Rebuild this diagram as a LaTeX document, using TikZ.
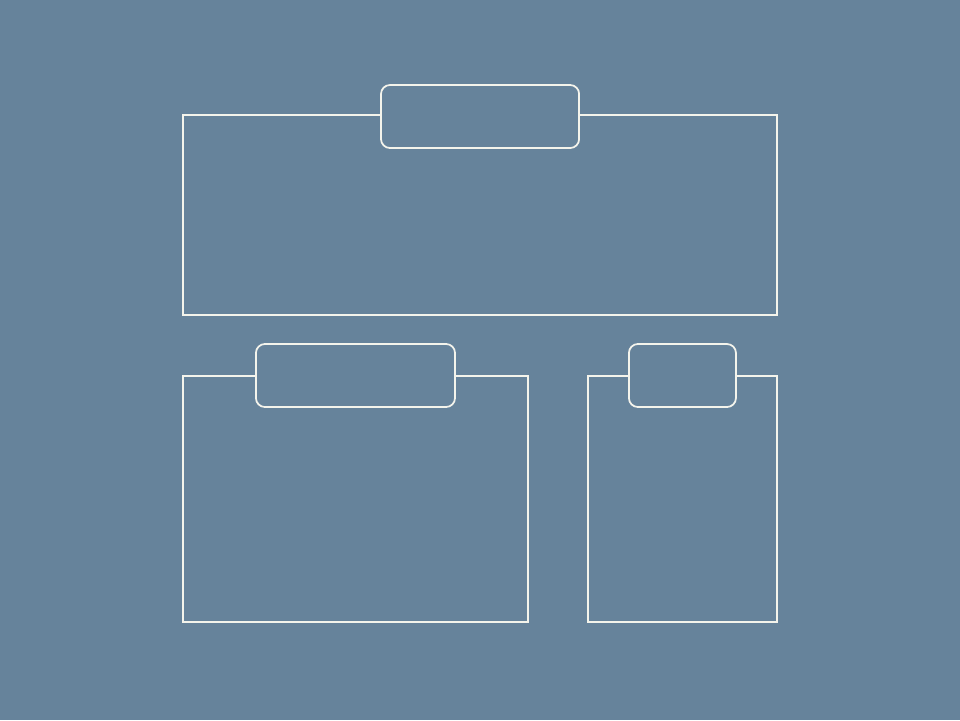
\documentclass[tikz,border=0pt]{standalone}
\usepackage{tikz}
\usetikzlibrary{calc}
\definecolor{slate}{HTML}{66839B}
\definecolor{chalk}{HTML}{F4F4EC}
\tikzset{my frame/.style={
  draw=chalk,
  line width=0.5pt,
  rectangle,
  anchor=north west
  }
}
\tikzset{my tab/.style={
  draw=chalk,
  fill=slate,
  line width=0.5pt,
  rounded corners=0.09cm,
  minimum height=0.63cm
  }
}

\begin{document}
\begin{tikzpicture}[x=0.01cm,y=-0.01cm]
    \fill[slate] (0,0) rectangle (960,720);
    \useasboundingbox (0,0) rectangle (960,720);

    \node[my frame,minimum width=5.94cm,minimum height=2cm] at (182,114) (top) {};
    \node[my frame,minimum width=3.45cm,minimum height=2.46cm] at (182,375) (left) {};
    \node[my frame,minimum width=1.89cm,minimum height=2.46cm] at (587,375) (right) {};

    \foreach \b/\w/\s in {top/1.98cm/-0.025cm,left/1.99cm/-0.005cm,right/1.07cm/-0.005cm}
        \node[my tab,minimum width=\w,yshift=\s] at (\b.north) (tab\b) {};

\end{tikzpicture}
\end{document}
